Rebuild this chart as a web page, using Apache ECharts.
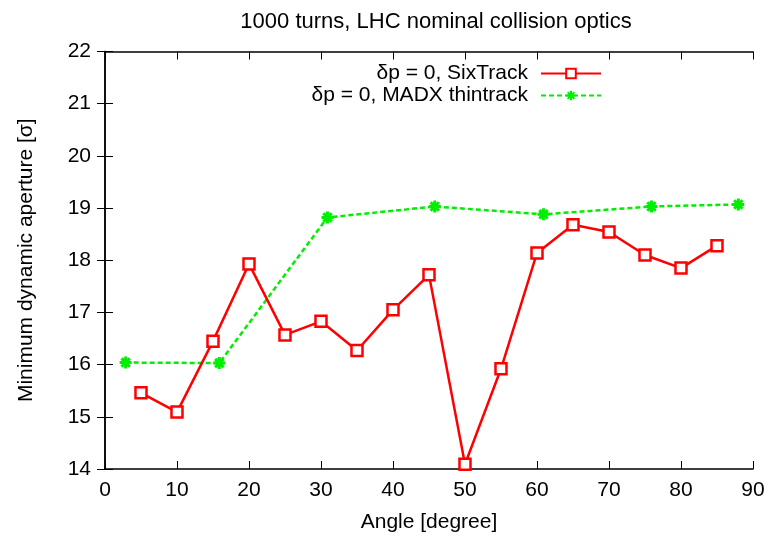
<!DOCTYPE html>
<html><head><meta charset="utf-8">
<script src="https://cdn.jsdelivr.net/npm/echarts@6/dist/echarts.min.js"></script>
<style>html,body{margin:0;padding:0;background:#fff}#c{width:777px;height:538px}</style>
</head><body><div id="c"></div>
<script>
const titleText = '1000 turns, LHC nominal collision optics';
const xAxisName = 'Angle [degree]';
const yAxisName = 'Minimum dynamic aperture [σ]';
const sixName = 'δp = 0, SixTrack';
const madxName = 'δp = 0, MADX thintrack';
const sixAngles = [5, 10, 15, 20, 25, 30, 35, 40, 45, 50, 55, 60, 65, 70, 75, 80, 85];
const sixAperture = [15.46, 15.09, 16.45, 17.93, 16.57, 16.83, 16.27, 17.05, 17.72, 14.09, 15.92, 18.14, 18.68, 18.54, 18.10, 17.85, 18.28];
const madxAngles = [2.87, 15.88, 30.9, 45.8, 60.9, 75.9, 87.96];
const madxAperture = [16.04, 16.03, 18.82, 19.03, 18.88, 19.03, 19.07];

const font = 'Liberation Sans, Arial, sans-serif';
const fs = 21;
const chart = echarts.init(document.getElementById('c'), null, {renderer: 'canvas'});
const star = 'path://M5,0L5,10M0,5L10,5M1.5,1.5L8.5,8.5M8.5,1.5L1.5,8.5';
const axisCommon = {
  axisLine: {show: true, lineStyle: {color: '#000', width: 1.5}},
  axisTick: {show: true, inside: true, length: 8, lineStyle: {color: '#000', width: 1}},
  splitLine: {show: false}
};
chart.setOption({
  animation: false,
  backgroundColor: '#fff',
  title: {text: titleText, left: 431, top: 6, textAlign: 'center',
    textStyle: {fontFamily: font, fontSize: 22, fontWeight: 'normal', color: '#000'}},
  grid: {left: 105, right: 24, top: 51.5, bottom: 68.7},
  legend: {
    orient: 'vertical', align: 'right', right: 170, top: 58, itemGap: 1,
    itemWidth: 60, itemHeight: 12,
    textStyle: {fontFamily: font, fontSize: fs, color: '#000', padding: [0, 8, 0, 0]},
    data: [sixName, madxName]
  },
  xAxis: [
    Object.assign({type: 'value', min: 0, max: 90, interval: 10, name: xAxisName,
      nameLocation: 'middle', nameGap: 43,
      nameTextStyle: {fontFamily: font, fontSize: fs, color: '#000'},
      axisLabel: {fontFamily: font, fontSize: fs, color: '#000', margin: 11}}, axisCommon),
    Object.assign({type: 'value', min: 0, max: 90, interval: 10, position: 'top',
      axisLabel: {show: false}}, axisCommon)
  ],
  yAxis: [
    Object.assign({type: 'value', min: 14, max: 22, interval: 1, name: yAxisName,
      nameLocation: 'middle', nameGap: 68,
      nameTextStyle: {fontFamily: font, fontSize: fs, color: '#000'},
      axisLabel: {fontFamily: font, fontSize: fs, color: '#000', margin: 14}}, axisCommon),
    Object.assign({type: 'value', min: 14, max: 22, interval: 1, position: 'right',
      axisLabel: {show: false}}, axisCommon)
  ],
  series: [
    {name: sixName, type: 'line', xAxisIndex: 0, yAxisIndex: 0,
      data: sixAngles.map((a, i) => [a, sixAperture[i]]),
      symbol: 'rect', symbolSize: 11, showAllSymbol: true,
      lineStyle: {color: '#ff0000', width: 2.5},
      itemStyle: {color: '#ffffff', borderColor: '#ff0000', borderWidth: 2.5},
      z: 3},
    {name: madxName, type: 'line', xAxisIndex: 0, yAxisIndex: 0,
      data: madxAngles.map((a, i) => [a, madxAperture[i]]),
      symbol: star, symbolSize: 12, showAllSymbol: true,
      lineStyle: {color: '#00ee00', width: 2.5, type: [5, 3]},
      itemStyle: {color: '#00ee00', borderColor: '#00ee00', borderWidth: 3},
      z: 2}
  ]
});
</script></body></html>
